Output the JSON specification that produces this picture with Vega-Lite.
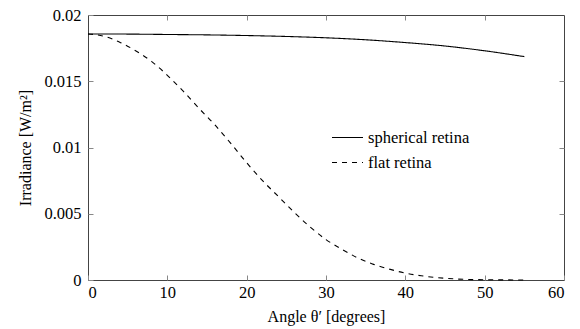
{
  "$schema": "https://vega.github.io/schema/vega-lite/v6.json",
  "width": 476,
  "height": 265,
  "autosize": "none",
  "padding": {"left": 88, "top": 15, "right": 16, "bottom": 49},
  "background": "white",
  "config": {
    "font": "Liberation Serif",
    "view": {"stroke": "#444", "strokeWidth": 1},
    "axis": {
      "labelFont": "Liberation Serif",
      "titleFont": "Liberation Serif",
      "labelFontSize": 16.5,
      "titleFontSize": 16,
      "labelColor": "black",
      "titleColor": "black",
      "titleFontWeight": "normal",
      "grid": false,
      "domain": false,
      "tickColor": "#888",
      "tickSize": -5,
      "tickWidth": 1
    },
    "legend": {"labelFont": "Liberation Serif"}
  },
  "data": {
    "values": [
      {"angle": 0, "irr": 0.01857, "series": "spherical retina"},
      {"angle": 5, "irr": 0.01856, "series": "spherical retina"},
      {"angle": 10, "irr": 0.01853, "series": "spherical retina"},
      {"angle": 15, "irr": 0.01850, "series": "spherical retina"},
      {"angle": 20, "irr": 0.01845, "series": "spherical retina"},
      {"angle": 25, "irr": 0.01838, "series": "spherical retina"},
      {"angle": 30, "irr": 0.01828, "series": "spherical retina"},
      {"angle": 35, "irr": 0.01813, "series": "spherical retina"},
      {"angle": 40, "irr": 0.01792, "series": "spherical retina"},
      {"angle": 45, "irr": 0.01766, "series": "spherical retina"},
      {"angle": 50, "irr": 0.01730, "series": "spherical retina"},
      {"angle": 55, "irr": 0.01686, "series": "spherical retina"},
      {"angle": 0, "irr": 0.01857, "series": "flat retina"},
      {"angle": 2, "irr": 0.01840, "series": "flat retina"},
      {"angle": 4, "irr": 0.01795, "series": "flat retina"},
      {"angle": 6, "irr": 0.01730, "series": "flat retina"},
      {"angle": 8, "irr": 0.01650, "series": "flat retina"},
      {"angle": 10, "irr": 0.01545, "series": "flat retina"},
      {"angle": 12, "irr": 0.01425, "series": "flat retina"},
      {"angle": 14, "irr": 0.01295, "series": "flat retina"},
      {"angle": 16, "irr": 0.01170, "series": "flat retina"},
      {"angle": 18, "irr": 0.01031, "series": "flat retina"},
      {"angle": 20, "irr": 0.00885, "series": "flat retina"},
      {"angle": 22, "irr": 0.00750, "series": "flat retina"},
      {"angle": 24, "irr": 0.00630, "series": "flat retina"},
      {"angle": 26, "irr": 0.00510, "series": "flat retina"},
      {"angle": 28, "irr": 0.00400, "series": "flat retina"},
      {"angle": 30, "irr": 0.00305, "series": "flat retina"},
      {"angle": 32, "irr": 0.00232, "series": "flat retina"},
      {"angle": 34, "irr": 0.00167, "series": "flat retina"},
      {"angle": 36, "irr": 0.00118, "series": "flat retina"},
      {"angle": 38, "irr": 0.00082, "series": "flat retina"},
      {"angle": 40, "irr": 0.00052, "series": "flat retina"},
      {"angle": 42, "irr": 0.00032, "series": "flat retina"},
      {"angle": 44, "irr": 0.00018, "series": "flat retina"},
      {"angle": 46, "irr": 0.00009, "series": "flat retina"},
      {"angle": 48, "irr": 0.00004, "series": "flat retina"},
      {"angle": 50, "irr": 0.00002, "series": "flat retina"},
      {"angle": 52, "irr": 0.00001, "series": "flat retina"},
      {"angle": 55, "irr": 0.0, "series": "flat retina"}
    ]
  },
  "layer": [
    {
      "mark": {"type": "line", "color": "black", "strokeWidth": 1.1, "interpolate": "monotone"},
      "encoding": {
        "x": {"field": "angle", "type": "quantitative", "scale": {"domain": [0, 60], "nice": false},
              "axis": {"title": "Angle θ′ [degrees]", "values": [0, 10, 20, 30, 40, 50, 60], "labelPadding": 9, "titlePadding": 8}},
        "y": {"field": "irr", "type": "quantitative", "scale": {"domain": [0, 0.02], "nice": false},
              "axis": {"title": "Irradiance [W/m²]", "values": [0, 0.005, 0.01, 0.015, 0.02], "format": ".3~f", "labelPadding": 12, "titlePadding": 10}},
        "strokeDash": {"field": "series", "type": "nominal",
          "scale": {"domain": ["spherical retina", "flat retina"], "range": [[1, 0], [5, 5]]},
          "legend": {"title": null, "orient": "none", "legendX": 243, "legendY": 106,
                     "labelFont": "Liberation Serif", "labelFontSize": 16.5, "labelColor": "black",
                     "symbolType": "stroke", "symbolStrokeColor": "black", "symbolStrokeWidth": 1.1,
                     "symbolSize": 961, "rowPadding": -4, "labelOffset": 4}}
      }
    },
    {
      "mark": {"type": "line", "opacity": 0},
      "encoding": {
        "x": {"field": "angle", "type": "quantitative",
              "axis": {"orient": "top", "title": null, "labels": false, "values": [10, 20, 30, 40, 50]}},
        "y": {"field": "irr", "type": "quantitative",
              "axis": {"orient": "right", "title": null, "labels": false, "values": [0.005, 0.01, 0.015]}}
      }
    }
  ],
  "resolve": {"axis": {"x": "independent", "y": "independent"}}
}
